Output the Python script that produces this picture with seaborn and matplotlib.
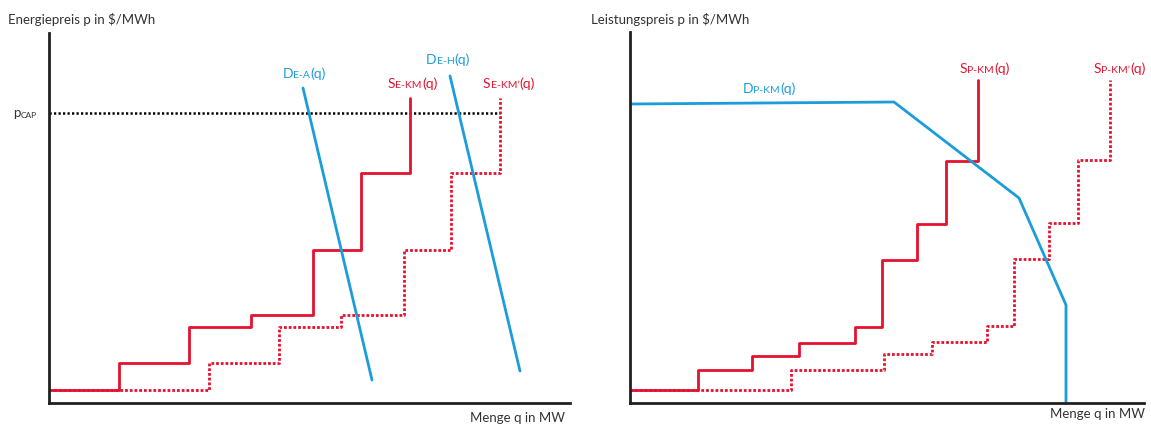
import matplotlib
matplotlib.use("Agg")
import matplotlib.pyplot as plt
import seaborn as sns
import numpy as np

# ---------------- data (arbitrary units) ----------------
# Left panel: energy market
e_pcap = 290
e_pcap_q = [0, 451]
e_skm_q = [0, 70, 140, 202, 264, 312, 361]
e_skm_p = [13, 40, 76, 88, 153, 230, 305]
e_skm2_q = [0, 160, 230, 292, 355, 402, 451]
e_skm2_p = [13, 40, 76, 88, 153, 230, 305]
e_dea_q = [254, 323]
e_dea_p = [315, 23]
e_deh_q = [401, 471]
e_deh_p = [327, 32]

# Right panel: capacity market
c_skm_q = [0, 68, 122, 169, 225, 252, 287, 316, 348]
c_skm_p = [13, 33, 47, 60, 76, 143, 179, 242, 323]
c_skm2_q = [0, 161, 254, 302, 357, 384, 419, 448, 480]
c_skm2_p = [13, 33, 49, 61, 77, 144, 180, 243, 323]
c_dkm_q = [0, 264, 389, 436, 436]
c_dkm_p = [299, 301, 205, 98, 0]

RED = "#E5122F"
BLUE = "#1B9DD9"
AX = "#231F20"

sns.set_theme(style="white")
plt.rcParams["font.family"] = ["Lato", "DejaVu Sans"]

W, H = 1151, 425
fig = plt.figure(figsize=(W / 100, H / 100), dpi=100)


def add_axes(l, r, t, b):
    return fig.add_axes([l / W, 1 - b / H, (r - l) / W, (b - t) / H])


axL = add_axes(49, 570, 33, 403)
axR = add_axes(630, 1144, 32, 403)
axL.set_xlim(0, 521)
axL.set_ylim(0, 370)
axR.set_xlim(0, 514)
axR.set_ylim(0, 371)

for ax in (axL, axR):
    for s in ("top", "right"):
        ax.spines[s].set_visible(False)
    for s in ("left", "bottom"):
        ax.spines[s].set_color(AX)
        ax.spines[s].set_linewidth(2)
    ax.set_xticks([])
    ax.set_yticks([])
    ax.set_xlabel("")
    ax.set_ylabel("")

DOT = (0, (1.0, 0.7))

# ---- left panel ----
sns.lineplot(x=e_pcap_q, y=[e_pcap, e_pcap], ax=axL, color="black", linewidth=1.8,
             linestyle=(0, (0.9, 0.9)), estimator=None, sort=False)
sns.lineplot(x=e_skm2_q, y=e_skm2_p, ax=axL, color=RED, linewidth=2, linestyle=DOT,
             drawstyle="steps-post", estimator=None, sort=False)
sns.lineplot(x=e_skm_q, y=e_skm_p, ax=axL, color=RED, linewidth=2,
             drawstyle="steps-post", estimator=None, sort=False)
sns.lineplot(x=e_dea_q, y=e_dea_p, ax=axL, color=BLUE, linewidth=2, estimator=None, sort=False)
sns.lineplot(x=e_deh_q, y=e_deh_p, ax=axL, color=BLUE, linewidth=2, estimator=None, sort=False)

# ---- right panel ----
sns.lineplot(x=c_skm2_q, y=c_skm2_p, ax=axR, color=RED, linewidth=2, linestyle=DOT,
             drawstyle="steps-post", estimator=None, sort=False)
sns.lineplot(x=c_skm_q, y=c_skm_p, ax=axR, color=RED, linewidth=2,
             drawstyle="steps-post", estimator=None, sort=False)
sns.lineplot(x=c_dkm_q, y=c_dkm_p, ax=axR, color=BLUE, linewidth=2, estimator=None, sort=False)

for ax in (axL, axR):
    leg = ax.get_legend()
    if leg is not None:
        leg.remove()


def curve_label(ax, x, y, big, small, tail, color, bs=10, ss=7.5):
    t1 = ax.text(x, y, big, ha="left", va="baseline", fontsize=bs, color=color,
                 clip_on=False)
    t2 = ax.annotate(small, xy=(1, 0), xycoords=t1, ha="left", va="bottom",
                     fontsize=ss, color=color, annotation_clip=False)
    t3 = ax.annotate(tail, xy=(1, 0), xycoords=t2, ha="left", va="bottom",
                     fontsize=bs, color=color, annotation_clip=False)
    return t1, t2, t3


curve_label(axL, 234, 325, "D", "E-A", "(q)", BLUE)
curve_label(axL, 377, 339, "D", "E-H", "(q)", BLUE)
curve_label(axL, 339, 315, "S", "E-KM", "(q)", RED)
curve_label(axL, 434, 315, "S", "E-KM’", "(q)", RED)

curve_label(axR, 113, 310, "D", "P-KM", "(q)", BLUE)
curve_label(axR, 330, 330, "S", "P-KM", "(q)", RED)
curve_label(axR, 464, 330, "S", "P-KM’", "(q)", RED)

# p_CAP label
pc = axL.text(-36, e_pcap - 4, "p", ha="left", va="baseline", fontsize=9.5,
              color="#333333", clip_on=False)
axL.annotate("CAP", xy=(1, 0), xycoords=pc, ha="left", va="bottom", fontsize=6,
             color="#333333", annotation_clip=False)

# Titles / axis captions
TXT = "#333333"
fig.text(8 / W, 1 - 20 / H, "Energiepreis p in $/MWh", ha="left", va="center",
         fontsize=9.5, color=TXT)
fig.text(591 / W, 1 - 19 / H, "Leistungspreis p in $/MWh", ha="left", va="center",
         fontsize=9.5, color=TXT)
fig.text(565 / W, 1 - 412 / H, "Menge q in MW", ha="right", va="top",
         fontsize=9.5, color=TXT)
fig.text(1145 / W, 1 - 408 / H, "Menge q in MW", ha="right", va="top",
         fontsize=9.5, color=TXT)

fig.savefig("out.png", dpi=100, facecolor="white")
